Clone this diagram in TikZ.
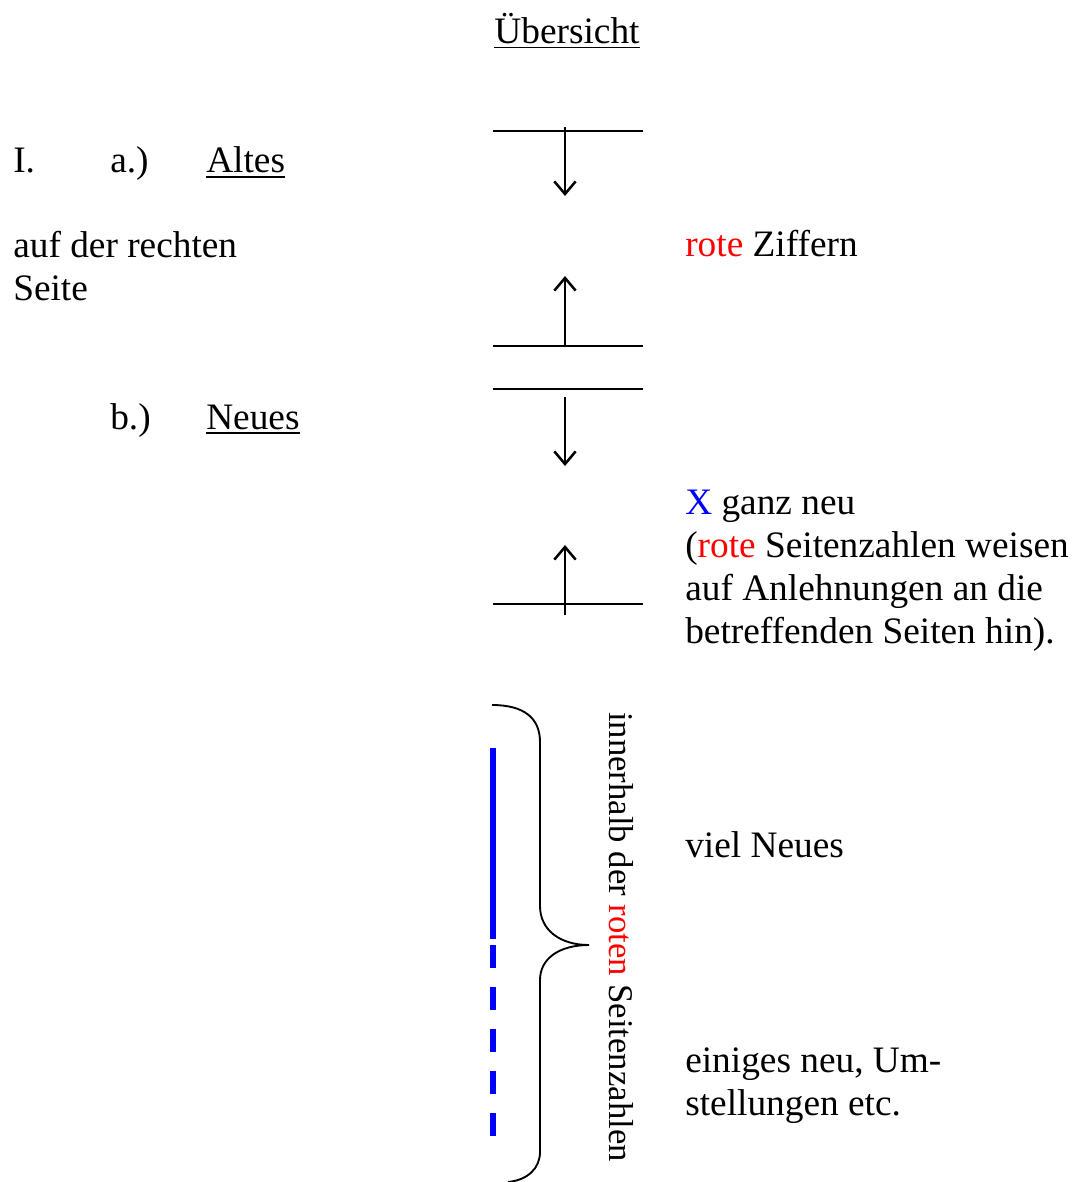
\documentclass[tikz,border=0pt]{standalone}
\usepackage{fontspec}
\setmainfont{Liberation Serif}
\usetikzlibrary{arrows.meta}
\begin{document}
\begin{tikzpicture}[x=0.75pt,y=-0.75pt,
  txt/.style={inner sep=0pt,anchor=base west,font=\fontsize{28}{32.25}\selectfont,align=left},
  rtxt/.style={inner sep=0pt,anchor=base,rotate=-90,font=\fontsize{26}{30}\selectfont},
  ul/.style={line width=1.4pt},
  bar/.style={line width=1.1pt},
  arr/.style={line width=1.9pt,-{Straight Barb[length=9.5pt,width=16pt,line width=1.9pt]}},
  brace/.style={line width=1.4pt},
  blueline/.style={line width=4.5pt,draw={rgb,255:red,0;green,0;blue,255}}]
\definecolor{tred}{RGB}{255,0,0}
\definecolor{tblue}{RGB}{0,0,255}
\useasboundingbox (0,0) rectangle (1074,1182);

% title
\node[txt,anchor=base] (title) at (567,43) {Übersicht};
\draw[ul] ([yshift=-3.4pt]title.base west) -- ([yshift=-3.4pt]title.base east);

% left column
\node[txt] (roman) at (13,172) {I.};
\node[txt] (a) at (110,172) {a.)};
\node[txt] (altes) at (206,172) {Altes};
\draw[ul] ([yshift=-3.6pt]altes.base west) -- ([yshift=-3.6pt]altes.base east);
\node[txt] (seite) at (13,300) {auf der rechten\\Seite};
\node[txt] (b) at (110,429) {b.)};
\node[txt] (neues) at (206,429) {Neues};
\draw[ul] ([yshift=-3.2pt]neues.base west) -- ([yshift=-3.2pt]neues.base east);

% right column (anchor = baseline of last line)
\node[txt] (ziffern) at (685,256) {\textcolor{tred}{rote} Ziffern};
\node[txt] (ganzneu) at (685,643) {\textcolor{tblue}{X} ganz neu\\(\textcolor{tred}{rote} Seitenzahlen weisen\\auf Anlehnungen an die\\betreffenden Seiten hin).};
\node[txt] (viel) at (685,857) {viel Neues};
\node[txt] (einiges) at (685,1115) {einiges neu, Um-\\stellungen etc.};

% bars and arrows
\coordinate (l1w) at (493,131); \coordinate (l1e) at (643,131);
\coordinate (l2w) at (493,346); \coordinate (l2e) at (643,346);
\coordinate (l3w) at (493,389); \coordinate (l3e) at (643,389);
\coordinate (l4w) at (493,604); \coordinate (l4e) at (643,604);
\draw[bar] (l1w) -- (l1e);
\draw[bar] (l2w) -- (l2e);
\draw[bar] (l3w) -- (l3e);
\draw[bar] (l4w) -- (l4e);
\coordinate (a1s) at (565,127); \coordinate (a1e) at (565,196);
\coordinate (a2s) at (565,346); \coordinate (a2e) at (565,276);
\coordinate (a3s) at (565,397); \coordinate (a3e) at (565,466);
\coordinate (a4s) at (565,615); \coordinate (a4e) at (565,545);
\draw[arr] (a1s) -- (a1e);
\draw[arr] (a2s) -- (a2e);
\draw[arr] (a3s) -- (a3e);
\draw[arr] (a4s) -- (a4e);

% blue lines
\coordinate (bl1) at (493,748); \coordinate (bl2) at (493,939);
\coordinate (bl3) at (493,945); \coordinate (bl4) at (493,1137);
\draw[blueline] (bl1) -- (bl2);
\draw[blueline,dash pattern=on 17.6pt off 13.9pt] (bl3) -- (bl4);

% brace
\coordinate (brtop) at (492,705);
\coordinate (brtip) at (589,945);
\coordinate (brbot) at (508,1182);
\draw[brace] (brtop) .. controls (524,705) and (540,718) .. (540,742)
  -- (540,906) .. controls (540,930) and (560,945) .. (brtip)
  .. controls (560,945) and (540,958) .. (540,980)
  -- (540,1152) .. controls (540,1168) and (528,1180) .. (brbot);

% rotated text
\node[rtxt] (innerhalb) at (609,937) {innerhalb der \textcolor{tred}{roten} Seitenzahlen};
\end{tikzpicture}
\end{document}
